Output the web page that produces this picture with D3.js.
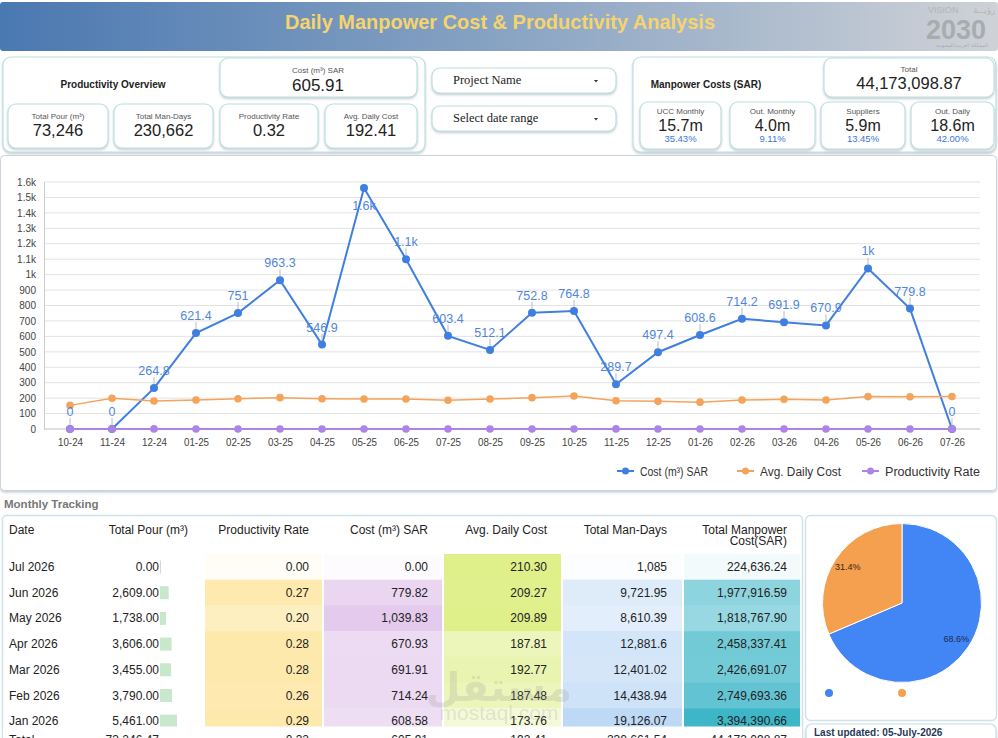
<!DOCTYPE html>
<html>
<head>
<meta charset="utf-8">
<script src="https://cdn.jsdelivr.net/npm/d3@7"></script>
<style>
  body { margin: 0; background: #ffffff; }
  svg { display: block; font-family: "Liberation Sans", Arial, sans-serif; }
</style>
</head>
<body>
<div id="dash"></div>
<script>
// ---- data ----
var months = ["10-24","11-24","12-24","01-25","02-25","03-25","04-25","05-25","06-25","07-25","08-25",
              "09-25","10-25","11-25","12-25","01-26","02-26","03-26","04-26","05-26","06-26","07-26"];
var costSeries = [0, 0, 264.8, 621.4, 751, 963.3, 546.9, 1561, 1100, 603.4, 512.1,
                  752.8, 764.8, 289.7, 497.4, 608.6, 714.2, 691.9, 670.9, 1039.8, 779.8, 0];
var avgDailySeries = [153, 199, 181, 188, 196, 203, 196, 194, 194, 186, 194,
                      203, 214, 183, 179, 173.8, 187.5, 192.8, 187.8, 209.9, 209.3, 210.3];
var prodRateSeries = [0, 0, 0.68, 0.3, 0.26, 0.21, 0.36, 0.12, 0.18, 0.31, 0.38,
                      0.27, 0.28, 0.63, 0.36, 0.29, 0.26, 0.28, 0.28, 0.2, 0.27, 0];
var seriesNames = ["Cost (m³) SAR", "Avg. Daily Cost", "Productivity Rate"];
var yTicks = [0,100,200,300,400,500,600,700,800,900,1000,1100,1200,1300,1400,1500,1600];

var leftKpiLabels = ["Total Pour (m³)", "Total Man-Days", "Productivity Rate", "Avg. Daily Cost"];
var leftKpiValues = ["73,246", "230,662", "0.32", "192.41"];
var costKpi = ["Cost (m³) SAR", "605.91"];
var rightKpiLabels = ["UCC Monthly", "Out. Monthly", "Suppliers", "Out. Daily"];
var rightKpiValues = ["15.7m", "4.0m", "5.9m", "18.6m"];
var rightKpiShares = ["35.43%", "9.11%", "13.45%", "42.00%"];
var totalKpi = ["Total", "44,173,098.87"];
var filters = ["Project Name", "Select date range"];

var tableHeaders = ["Date", "Total Pour (m³)", "Productivity Rate", "Cost (m³) SAR", "Avg. Daily Cost", "Total Man-Days", "Total Manpower|Cost(SAR)"];
var tableDates = ["Jul 2026", "Jun 2026", "May 2026", "Apr 2026", "Mar 2026", "Feb 2026", "Jan 2026"];
var tablePour = [0, 2609, 1738, 3606, 3455, 3790, 5461];
var tableRate = [0, 0.27, 0.20, 0.28, 0.28, 0.26, 0.29];
var tableCost = [0, 779.82, 1039.83, 670.93, 691.91, 714.24, 608.58];
var tableAvg = [210.30, 209.27, 209.89, 187.81, 192.77, 187.48, 173.76];
var tableManDays = ["1,085", "9,721.95", "8,610.39", "12,881.6", "12,401.02", "14,438.94", "19,126.07"];
var tableManDaysNum = [1085, 9721.95, 8610.39, 12881.6, 12401.02, 14438.94, 19126.07];
var tableTotal = [224636.24, 1977916.59, 1818767.90, 2458337.41, 2426691.07, 2749693.36, 3394390.66];
var totalRow = ["Total", "73,246.47", "0.32", "605.91", "192.41", "230,661.54", "44,173,098.87"];

var pieValues = [68.6, 31.4];
var pieColors = ["#4285f4", "#f5a04e"];

var W = 998, H = 738;
var svg = d3.select("#dash").append("svg").attr("width", W).attr("height", H);

var defs = svg.append("defs");
var grad = defs.append("linearGradient").attr("id", "banner");
grad.append("stop").attr("offset", "0%").attr("stop-color", "#4a78b1");
grad.append("stop").attr("offset", "50%").attr("stop-color", "#88a3c3");
grad.append("stop").attr("offset", "100%").attr("stop-color", "#cfd2d7");
var shadow = defs.append("filter").attr("id", "sh").attr("x", "-10%").attr("y", "-10%").attr("width", "120%").attr("height", "140%");
shadow.append("feDropShadow").attr("dx", 0).attr("dy", 1.5).attr("stdDeviation", 1).attr("flood-color", "#7a8a90").attr("flood-opacity", 0.45);

function card(x, y, w, h, rx, stroke) {
  return svg.append("rect").attr("x", x).attr("y", y).attr("width", w).attr("height", h)
    .attr("rx", rx).attr("fill", "#fff").attr("stroke", stroke || "#bfdfe2").attr("stroke-width", 1.2)
    .attr("filter", "url(#sh)");
}

// ---- banner ----
svg.append("rect").attr("x", 0).attr("y", 2).attr("width", W).attr("height", 49).attr("rx", 3).attr("fill", "url(#banner)");
svg.append("text").attr("x", 500).attr("y", 29).attr("text-anchor", "middle")
  .attr("textLength", 430).attr("lengthAdjust", "spacingAndGlyphs")
  .style("font-weight", "bold").style("font-size", "21px").attr("fill", "#f6d46c")
  .text("Daily Manpower Cost & Productivity Analysis");
// vision 2030 mark
svg.append("text").attr("x", 928).attr("y", 13).style("font-size", "9px").attr("fill", "#b4b4b4").text("VISION");
svg.append("text").attr("x", 995).attr("y", 13).attr("text-anchor", "end").style("font-size", "9px").attr("fill", "#b4b4b4").text("رؤيــة");
svg.append("text").attr("x", 926).attr("y", 39).style("font-size", "27px").style("font-weight", "bold").attr("fill", "#a9acae").text("2030");
svg.append("text").attr("x", 962).attr("y", 47).attr("text-anchor", "middle").style("font-size", "5px").attr("fill", "#aaa").text("المملكة العربية السعودية");

// ---- productivity overview panel ----
card(3, 57, 422, 95, 8);
svg.append("text").attr("x", 113).attr("y", 88).attr("text-anchor", "middle")
  .style("font-size", "10px").style("font-weight", "bold").attr("fill", "#222").text("Productivity Overview");
card(220, 58, 197, 39, 8);
svg.append("text").attr("x", 318).attr("y", 73).attr("text-anchor", "middle").style("font-size", "8px").attr("fill", "#555").text(costKpi[0]);
svg.append("text").attr("x", 318).attr("y", 91).attr("text-anchor", "middle").style("font-size", "17px").attr("fill", "#222").text(costKpi[1]);
var leftBoxes = [[8, 100], [114, 99], [220, 98], [325, 92]];
leftBoxes.forEach(function(b, i) {
  card(b[0], 104, b[1], 44, 8);
  svg.append("text").attr("x", b[0] + b[1] / 2).attr("y", 119).attr("text-anchor", "middle").style("font-size", "8px").attr("fill", "#555").text(leftKpiLabels[i]);
  svg.append("text").attr("x", b[0] + b[1] / 2).attr("y", 136).attr("text-anchor", "middle").style("font-size", "16.5px").attr("fill", "#222").text(leftKpiValues[i]);
});

// ---- filter dropdowns ----
filters.forEach(function(f, i) {
  var y = 68 + i * 38;
  card(432, y, 184, 25, 8);
  svg.append("text").attr("x", 453).attr("y", y + 16).style("font-family", "'Liberation Serif', 'Times New Roman', serif")
    .style("font-size", "12.5px").attr("fill", "#222").text(f);
  svg.append("path").attr("d", "M594," + (y + 12) + "l4,0l-2,2.5z").attr("fill", "#333");
});

// ---- manpower costs panel ----
card(633, 57, 363, 95, 8);
svg.append("text").attr("x", 706).attr("y", 88).attr("text-anchor", "middle")
  .style("font-size", "10px").style("font-weight", "bold").attr("fill", "#222").text("Manpower Costs (SAR)");
card(824, 58, 170, 39, 8);
svg.append("text").attr("x", 909).attr("y", 72).attr("text-anchor", "middle").style("font-size", "8px").attr("fill", "#555").text(totalKpi[0]);
svg.append("text").attr("x", 909).attr("y", 89).attr("text-anchor", "middle").style("font-size", "16.5px").attr("fill", "#222").text(totalKpi[1]);
var rightBoxes = [[640, 81], [730, 85], [821, 84], [911, 83]];
rightBoxes.forEach(function(b, i) {
  card(b[0], 102, b[1], 47, 8);
  var cx = b[0] + b[1] / 2;
  svg.append("text").attr("x", cx).attr("y", 114).attr("text-anchor", "middle").style("font-size", "8px").attr("fill", "#555").text(rightKpiLabels[i]);
  svg.append("text").attr("x", cx).attr("y", 131).attr("text-anchor", "middle").style("font-size", "16px").attr("fill", "#222").text(rightKpiValues[i]);
  svg.append("text").attr("x", cx).attr("y", 142).attr("text-anchor", "middle").style("font-size", "9.5px").attr("fill", "#3a78d6").text(rightKpiShares[i]);
});

// ---- line chart panel ----
svg.append("rect").attr("x", 0.5).attr("y", 155.5).attr("width", 996).attr("height", 335).attr("rx", 4)
  .attr("fill", "#fff").attr("stroke", "#cbd3df").attr("filter", "url(#sh)");

var plot = {left: 44, right: 980, top: 182, bottom: 429};
var x = d3.scalePoint().domain(months).range([70, 952]);
var y = d3.scaleLinear().domain([0, 1600]).range([plot.bottom, plot.top]);

var chart = svg.append("g");
chart.selectAll("line.grid").data(yTicks).enter().append("line")
  .attr("x1", plot.left).attr("x2", plot.right)
  .attr("y1", function(d) { return y(d); }).attr("y2", function(d) { return y(d); })
  .attr("stroke", "#e3e3e3").attr("stroke-width", 1);

var yAxis = d3.axisLeft(y).tickValues(yTicks).tickSize(0).tickPadding(8)
  .tickFormat(function(d) { return d >= 1000 ? (d / 1000) + "k" : d; });
var gy = chart.append("g").attr("transform", "translate(" + plot.left + ",0)").call(yAxis);
gy.select(".domain").attr("stroke", "#ccc");
gy.selectAll("text").style("font-size", "10px").attr("fill", "#444").style("font-family", "'Liberation Sans', Arial, sans-serif");

var xAxis = d3.axisBottom(x).tickSize(0).tickPadding(10);
var gx = chart.append("g").attr("transform", "translate(0," + plot.bottom + ")").call(xAxis);
gx.select(".domain").attr("stroke", "#ccc").attr("d", "M" + plot.left + ",0H" + plot.right);
gx.selectAll("text").style("font-size", "10.5px").attr("fill", "#444")
  .attr("textLength", 25).attr("lengthAdjust", "spacingAndGlyphs");

var seriesList = [
  {name: seriesNames[0], values: costSeries, color: "#3f7fe0", width: 2, r: 4, legendW: 68},
  {name: seriesNames[1], values: avgDailySeries, color: "#f4a35a", width: 1.5, r: 3.8, legendW: 81},
  {name: seriesNames[2], values: prodRateSeries, color: "#ad84e6", width: 2, r: 3.8, legendW: 95}
];
var line = d3.line().x(function(d, i) { return x(months[i]); }).y(function(d) { return y(d); });

seriesList.forEach(function(s) {
  chart.append("path").attr("d", line(s.values)).attr("fill", "none")
    .attr("stroke", s.color).attr("stroke-width", s.width);
  chart.selectAll(null).data(s.values).enter().append("circle")
    .attr("cx", function(d, i) { return x(months[i]); }).attr("cy", function(d) { return y(d); })
    .attr("r", s.r).attr("fill", s.color);
});

// value labels on the cost series
var labelFmt = function(v) { return v >= 1000 ? d3.format(".2~s")(v) : d3.format(".1~f")(v); };
costSeries.forEach(function(v, i) {
  var px = x(months[i]), py = y(v);
  var below = py - 22 < plot.top;
  if (!below) {
    chart.append("line").attr("x1", px).attr("x2", px).attr("y1", py - 4).attr("y2", py - 11)
      .attr("stroke", "#bbb").attr("stroke-width", 1);
  }
  chart.append("text").attr("x", px).attr("y", below ? py + 22 : py - 13).attr("text-anchor", "middle")
    .style("font-size", "12.5px").attr("fill", "#4f86dc").text(labelFmt(v));
});

// legend
var legendX = [617, 737, 862];
seriesList.forEach(function(s, i) {
  var lg = svg.append("g").attr("transform", "translate(" + legendX[i] + ",471)");
  lg.append("line").attr("x1", 0).attr("x2", 17).attr("stroke", s.color).attr("stroke-width", 2);
  lg.append("circle").attr("cx", 8.5).attr("r", 3.5).attr("fill", s.color);
  lg.append("text").attr("x", 23).attr("y", 4.5).style("font-size", "12.5px").attr("fill", "#333")
    .attr("textLength", s.legendW).attr("lengthAdjust", "spacingAndGlyphs").text(s.name);
});

// ---- monthly tracking table ----
svg.append("text").attr("x", 4).attr("y", 508).style("font-size", "11.5px").style("font-weight", "bold")
  .attr("fill", "#777").text("Monthly Tracking");
svg.append("rect").attr("x", 2.5).attr("y", 515.5).attr("width", 800).attr("height", 240).attr("rx", 4)
  .attr("fill", "#fff").attr("stroke", "#cfe2ea").attr("stroke-width", 1.5);

var colRight = [null, 188, 309, 428, 547, 667, 787];
var cellX = [[0, 0], [0, 0], [205, 322], [324, 442], [444, 561], [563, 682], [684, 800]];
tableHeaders.forEach(function(h, i) {
  var parts = h.split("|");
  var t = svg.append("text").style("font-size", "12px").attr("fill", "#222")
    .attr("text-anchor", i === 0 ? "start" : "end").attr("x", i === 0 ? 9 : colRight[i]);
  if (parts.length === 1) {
    t.attr("y", 534).text(h);
  } else {
    t.attr("y", 534).text(parts[0]);
    svg.append("text").style("font-size", "12px").attr("fill", "#222").attr("text-anchor", "end")
      .attr("x", colRight[i]).attr("y", 545).text(parts[1]);
  }
});

var rateColor = d3.scaleLinear().domain([0, 0.28]).range(["#fffdf6", "#fee9ac"]).clamp(true);
var costColor = d3.scaleLinear().domain([0, 1040]).range(["#fdfbfe", "#e4caed"]);
var avgColor = d3.scaleLinear().domain([173, 210.3]).range(["#f4f9da", "#dff08a"]);
var manColor = d3.scaleLinear().domain([0, 19126]).range(["#ffffff", "#bed9f6"]);
var totColor = d3.scaleLinear().domain([0, 3394390]).range(["#ffffff", "#3db6c8"]);
var pourBar = d3.scaleLinear().domain([0, 5461]).range([1, 17]);

var rowTop = 554, rowH = 25.7;
var fmt2 = d3.format(",.2f");
var rows = svg.selectAll("g.row").data(tableDates).enter().append("g").attr("class", "row")
  .attr("transform", function(d, i) { return "translate(0," + (rowTop + i * rowH) + ")"; });

rows.each(function(d, i) {
  var g = d3.select(this);
  var fills = [null, null, rateColor(tableRate[i]), costColor(tableCost[i]), avgColor(tableAvg[i]),
               manColor(tableManDaysNum[i]), totColor(tableTotal[i])];
  var texts = [d, fmt2(tablePour[i]), d3.format(".2f")(tableRate[i]), fmt2(tableCost[i]), fmt2(tableAvg[i]),
               tableManDays[i], fmt2(tableTotal[i])];
  for (var c = 2; c < 7; c++) {
    g.append("rect").attr("x", cellX[c][0]).attr("width", cellX[c][1] - cellX[c][0])
      .attr("y", 0).attr("height", rowH + 0.5).attr("fill", fills[c]);
  }
  g.append("rect").attr("x", 160).attr("y", 6.5).attr("width", pourBar(tablePour[i])).attr("height", 13)
    .attr("fill", tablePour[i] > 0 ? "#c9e7cb" : "#d6d6d6");
  texts.forEach(function(t, c) {
    g.append("text").attr("x", c === 0 ? 9 : (c === 1 ? 159 : colRight[c]))
      .attr("y", 17).attr("text-anchor", c === 0 ? "start" : "end")
      .style("font-size", "12px").attr("fill", "#222").text(t);
  });
});

// watermark
svg.append("text").attr("x", 499).attr("y", 701).attr("text-anchor", "middle").style("font-size", "40px")
  .style("font-weight", "bold").style("font-family", "'Noto Sans', 'DejaVu Sans', sans-serif")
  .attr("fill", "#9a9a9a").attr("opacity", 0.22).text("مستقل");
svg.append("text").attr("x", 499).attr("y", 720).attr("text-anchor", "middle").style("font-size", "21px")
  .attr("fill", "#9a9a9a").attr("opacity", 0.22).text("mostaql.com");

// sticky total row
svg.append("rect").attr("x", 3).attr("y", 726.5).attr("width", 799).attr("height", 12).attr("fill", "#fff");
totalRow.forEach(function(t, c) {
  svg.append("text").attr("x", c === 0 ? 9 : (c === 1 ? 159 : colRight[c])).attr("y", 744)
    .attr("text-anchor", c === 0 ? "start" : "end").style("font-size", "12px").attr("fill", "#222").text(t);
});

// ---- pie panel ----
svg.append("rect").attr("x", 805.5).attr("y", 515.5).attr("width", 191).attr("height", 205).attr("rx", 5)
  .attr("fill", "#fff").attr("stroke", "#cfe2ea").attr("stroke-width", 1.5);
var pie = d3.pie().sort(null);
var arc = d3.arc().innerRadius(0).outerRadius(79.5);
var labelArc = d3.arc().innerRadius(65).outerRadius(65);
var pg = svg.append("g").attr("transform", "translate(902,603)");
pg.selectAll("path").data(pie(pieValues)).enter().append("path")
  .attr("d", arc).attr("fill", function(d, i) { return pieColors[i]; })
  .attr("stroke", "#fff").attr("stroke-width", 1);
pg.selectAll("text").data(pie(pieValues)).enter().append("text")
  .attr("transform", function(d) { return "translate(" + labelArc.centroid(d) + ")"; })
  .attr("text-anchor", "middle").attr("dy", "0.35em").style("font-size", "9px")
  .attr("fill", function(d, i) { return i === 0 ? "#1b2d4d" : "#3a2410"; })
  .text(function(d) { return d.data + "%"; });
pieColors.forEach(function(c, i) {
  svg.append("circle").attr("cx", 829 + i * 73).attr("cy", 693).attr("r", 4).attr("fill", c);
});

card(806, 724, 190, 22, 6, "#c6e1e5");
svg.append("text").attr("x", 814).attr("y", 736).style("font-size", "10px").style("font-weight", "bold")
  .attr("fill", "#1f3a57").text("Last updated: 05-July-2026");
</script>
</body>
</html>
